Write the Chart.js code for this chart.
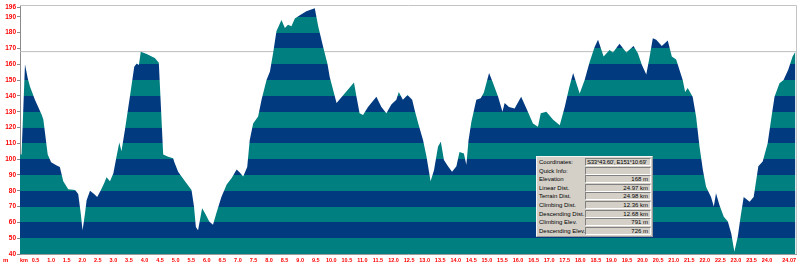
<!DOCTYPE html>
<html>
<head>
<meta charset="utf-8">
<script src="https://cdn.jsdelivr.net/npm/chart.js@4/dist/chart.umd.min.js"></script>
<style>
  html, body { margin: 0; padding: 0; background: #fff; }
  #wrap { position: relative; width: 799px; height: 264px; }
  #qi { position: absolute; left: 536px; top: 156px; width: 115px; height: 79px;
        background: #d4d0c8; border-top: 1px solid #f4f4f4; border-left: 1px solid #f4f4f4;
        border-right: 1px solid #9a9a9a; border-bottom: 1px solid #9a9a9a;
        font-family: 'Liberation Sans', Arial, sans-serif; font-size: 6px; color: #000; }
  .row { position: absolute; left: 0; height: 8px; width: 115px; }
  .lab { position: absolute; left: 2px; top: 1px; white-space: nowrap; }
  .val { position: absolute; left: 48px; top: 0px; width: 62px; height: 6px; line-height: 6px;
         border-top: 1px solid #808080; border-left: 1px solid #808080;
         border-bottom: 1px solid #fff; border-right: 1px solid #fff;
         text-align: right; padding-right: 2px; white-space: nowrap; overflow: hidden; }
  .val.left { text-align: left; padding-left: 1px; padding-right: 0; width: 63px; letter-spacing: -0.25px; }
</style>
</head>
<body>
<div id="wrap">
  <canvas id="c" width="799" height="264"></canvas>
  <div id="qi"></div>
</div>
<script>
// ---- data ----
const distanceKm = [
  0.00, 0.05, 0.16, 0.25, 0.32, 0.48, 0.70, 0.75, 0.89, 1.00, 1.18, 1.28, 1.39, 1.55, 1.77, 1.87, 1.95, 2.01,
  2.09, 2.14, 2.25, 2.38, 2.48, 2.60, 2.71, 2.78, 2.89, 3.00, 3.10, 3.19, 3.26, 3.37, 3.53, 3.67, 3.75, 3.82,
  3.88, 4.07, 4.33, 4.46, 4.60, 4.76, 4.92, 4.96, 5.08, 5.30, 5.51, 5.59, 5.65, 5.72, 5.85, 5.94, 6.08, 6.20,
  6.31, 6.47, 6.64, 6.80, 6.96, 7.06, 7.17, 7.30, 7.38, 7.49, 7.65, 7.76, 7.92, 8.03, 8.13, 8.24, 8.40, 8.51,
  8.61, 8.72, 8.83, 8.99, 9.20, 9.47, 9.58, 9.74, 9.88, 9.95, 10.17, 10.43, 10.73, 10.81, 10.91, 11.02, 11.18,
  11.45, 11.61, 11.77, 11.93, 12.09, 12.17, 12.30, 12.45, 12.60, 12.68, 12.81, 12.95, 13.06, 13.19, 13.30,
  13.43, 13.52, 13.62, 13.75, 13.88, 14.02, 14.12, 14.26, 14.34, 14.41, 14.50, 14.66, 14.80, 14.90, 15.07,
  15.20, 15.36, 15.50, 15.57, 15.71, 15.89, 16.10, 16.27, 16.48, 16.64, 16.73, 16.91, 17.12, 17.34, 17.50,
  17.64, 17.77, 17.98, 18.14, 18.30, 18.46, 18.57, 18.75, 18.94, 19.05, 19.26, 19.48, 19.71, 19.85, 19.98,
  20.12, 20.22, 20.33, 20.44, 20.62, 20.81, 20.94, 21.08, 21.29, 21.37, 21.45, 21.61, 21.72, 21.83, 21.94,
  22.04, 22.20, 22.29, 22.36, 22.47, 22.61, 22.74, 22.85, 22.95, 23.06, 23.15, 23.25, 23.44, 23.57, 23.72,
  23.86, 24.02, 24.13, 24.24, 24.40, 24.53, 24.68, 24.82, 24.91
];
const elevationM = [
  103, 103, 160, 151, 146, 137.5, 128, 125, 103, 98, 96, 95, 86, 81, 80.5, 78, 66, 55,
  66, 74, 80, 78, 76, 80.5, 85, 88.5, 86, 91, 101.5, 110.5, 105, 118.5, 139.5, 158.5, 160.5, 159.5,
  168, 166.5, 164, 161, 103, 101.5, 100.5, 98, 92, 86, 80.5, 70, 57, 55, 69, 66, 60.5, 58.5,
  66, 76, 84, 88, 93.5, 91.5, 89, 95, 112, 122.5, 127, 137.5, 150, 155.5, 167, 181, 188, 183,
  185, 184, 189, 191, 193.5, 195.5, 184, 171, 160, 152, 135.5, 141.5, 148.5, 139.5, 129, 128, 133,
  139.5, 133, 129, 134.5, 137.5, 142.5, 137.5, 140.5, 137.5, 131, 121.5, 112, 101.5, 86, 93,
  108, 111, 99.5, 95.5, 92, 95.5, 104.5, 103.5, 96.5, 112, 123.5, 137.5, 138.5, 142, 154.5,
  148, 139.5, 130, 135.5, 133, 132, 139.5, 132, 122.5, 120.5, 129, 130, 125, 121.5, 133,
  145, 154.5, 141.5, 150, 161.5, 171, 175.5, 165, 169, 167.5, 173, 167.5, 171.5, 167, 159.5,
  153.5, 164, 176.5, 175.5, 171.5, 175, 165, 163, 150, 142.5, 145, 139.5, 127, 108, 93,
  82.5, 76, 70, 78.5, 71, 63.5, 60.5, 53, 41.5, 51, 63.5, 76, 73, 76, 95.5,
  98.5, 110, 125, 139.5, 148, 150, 156.5, 165, 168
];
const yTickValues = [40, 50, 60, 70, 80, 90, 100, 110, 120, 130, 140, 150, 160, 170, 180, 190, 196];
const xTickStepKm = 0.5;
const xLastTickKm = 24.0;
const xStartLabel = 'km';
const xEndLabel = '24.07';
const yUnitLabel = 'm';
const cursorElevation = 168;
const totalKm = 24.93;
const quickInfoLabels = ['Coordinates:', 'Quick Info:', 'Elevation', 'Linear Dist.', 'Terrain Dist.',
  'Climbing Dist.', 'Descending Dist.', 'Climbing Elev.', 'Descending Elev.'];
const quickInfoValues = ['S33°43.60\', E151°10.69\'', '', '168 m', '24.97 km', '24.98 km',
  '12.36 km', '12.68 km', '791 m', '726 m'];

// ---- styles ----
const TEAL = '#007f80';
const NAVY = '#023a80';
const RED = '#ff0000';
const bandStep = 10, bandMin = 40, bandMax = 200;

function stripeFill(context) {
  const chart = context.chart;
  const { ctx, chartArea, scales } = chart;
  if (!chartArea) return TEAL;
  const y = scales.y;
  const pb = y.getPixelForValue(bandMin), pt = y.getPixelForValue(bandMax);
  const g = ctx.createLinearGradient(0, pb, 0, pt);
  const span = bandMax - bandMin;
  for (let v = bandMin; v < bandMax; v += bandStep) {
    const k = (v - bandMin) / bandStep;
    const c = k % 2 === 0 ? TEAL : NAVY;
    g.addColorStop((v - bandMin) / span + (k === 0 ? 0 : 0.0001), c);
    g.addColorStop(Math.min((v + bandStep - bandMin) / span, 1), c);
  }
  return g;
}

const profile = distanceKm.map((x, i) => ({ x, y: elevationM[i] }));

const frame = {
  id: 'frame',
  afterDatasetsDraw(chart) {
    const { ctx, chartArea: a } = chart;
    ctx.save();
    ctx.strokeStyle = '#c4c4c4';
    ctx.lineWidth = 1;
    ctx.beginPath();
    ctx.moveTo(a.left, a.top + 0.5); ctx.lineTo(a.right + 0.5, a.top + 0.5);
    ctx.lineTo(a.right + 0.5, a.bottom);
    ctx.stroke();
    ctx.restore();
  },
  afterDraw(chart) {
    const { ctx } = chart;
    ctx.save();
    ctx.fillStyle = RED;
    ctx.font = 'bold 6px "Liberation Sans", Arial';
    ctx.textBaseline = 'middle';
    ctx.textAlign = 'left';
    ctx.fillText(yUnitLabel, 3, 260);
    ctx.restore();
  }
};

new Chart(document.getElementById('c'), {
  type: 'line',
  data: {
    datasets: [
      {
        data: profile,
        fill: 'start',
        backgroundColor: stripeFill,
        borderWidth: 0,
        borderColor: 'rgba(0,0,0,0)',
        pointRadius: 0,
        tension: 0,
        order: 1
      },
      {
        data: [{ x: 0, y: cursorElevation }, { x: totalKm, y: cursorElevation }],
        fill: false,
        borderColor: '#bdbdbd',
        borderWidth: 1,
        pointRadius: 0,
        order: 2
      }
    ]
  },
  options: {
    responsive: false,
    animation: false,
    devicePixelRatio: 1,
    layout: { padding: { top: 5, right: 3, left: 0, bottom: 0 } },
    plugins: { legend: { display: false }, tooltip: { enabled: false } },
    scales: {
      x: {
        type: 'linear', min: 0, max: totalKm,
        afterFit(s) { s.height = 10; },
        afterBuildTicks(s) {
          const t = [];
          for (let v = 0; v <= xLastTickKm + 1e-9; v += xTickStepKm) t.push({ value: Math.round(v * 10) / 10 });
          t.push({ value: totalKm });
          s.ticks = t;
        },
        grid: { display: false, drawTicks: false, tickLength: 0 },
        border: { display: true, color: '#9a9a9a' },
        ticks: {
          autoSkip: false, maxRotation: 0, minRotation: 0, padding: 3, align: 'inner',
          color: RED, font: { family: '"Liberation Sans", Arial', size: 5.5, weight: 'bold' },
          callback(v) {
            if (v === 0) return xStartLabel;
            if (v === totalKm) return xEndLabel;
            return v.toFixed(1);
          }
        }
      },
      y: {
        type: 'linear', min: 40, max: 197.5,
        afterFit(s) { s.width = 20; },
        afterBuildTicks(s) { s.ticks = yTickValues.map(v => ({ value: v })); },
        grid: { drawOnChartArea: false, drawTicks: true, tickLength: 3, color: '#8a8a8a' },
        border: { display: true, color: '#8a8a8a' },
        ticks: {
          autoSkip: false, padding: 1, color: RED,
          font: { family: '"Liberation Sans", Arial', size: 6.5, weight: 'bold' }
        }
      }
    }
  },
  plugins: [frame]
});

// ---- quick info panel ----
const qi = document.getElementById('qi');
quickInfoLabels.forEach((lab, i) => {
  const row = document.createElement('div');
  row.className = 'row';
  row.style.top = (1 + i * 8.6) + 'px';
  const l = document.createElement('div');
  l.className = 'lab';
  l.textContent = lab;
  const v = document.createElement('div');
  v.className = 'val' + (i === 0 ? ' left' : '');
  v.textContent = quickInfoValues[i];
  row.appendChild(l); row.appendChild(v);
  qi.appendChild(row);
});
</script>
</body>
</html>
